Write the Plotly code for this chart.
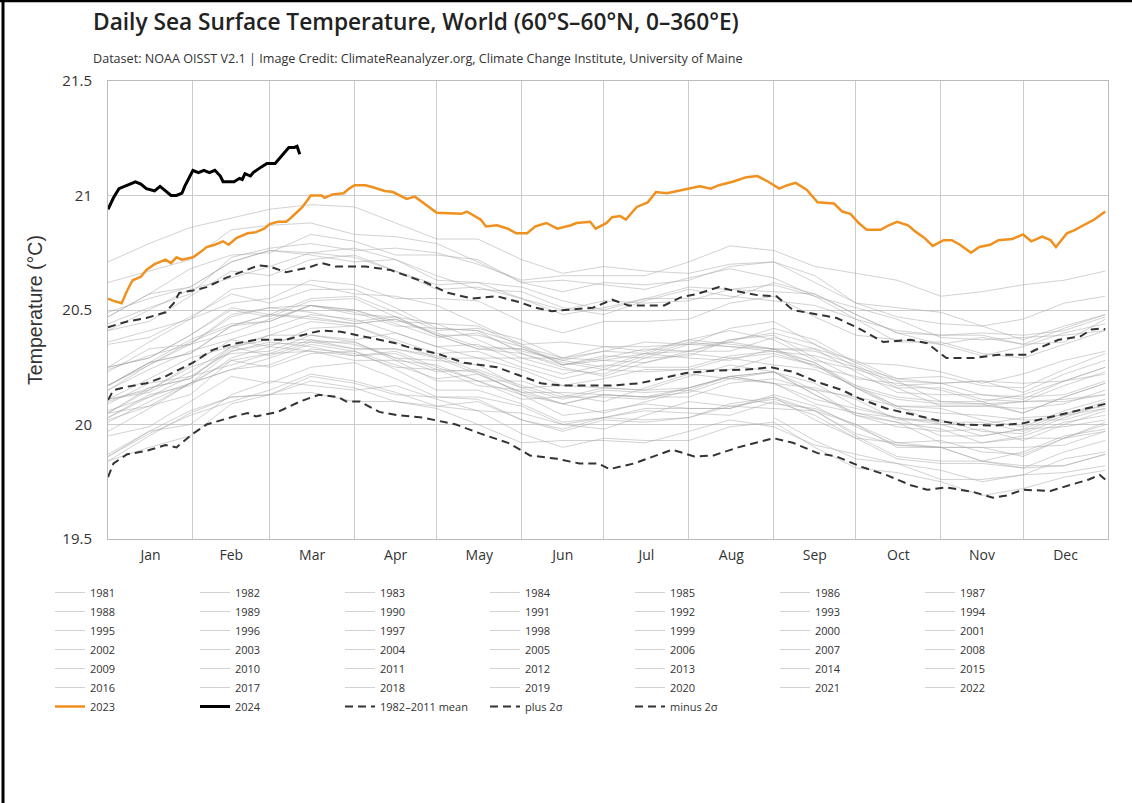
import plotly.graph_objects as go

# ---------------- data ----------------
MONTHS = ["Jan", "Feb", "Mar", "Apr", "May", "Jun", "Jul", "Aug", "Sep", "Oct", "Nov", "Dec"]
MONTH_MID = [15.5, 45, 74.5, 105, 135.5, 166, 196.5, 227.5, 258, 288.5, 319, 349.5]
MONTH_START = [0, 31, 59, 90, 120, 151, 181, 212, 243, 273, 304, 334, 365]
Y_TICKS = [19.5, 20, 20.5, 21, 21.5]
Y_TICK_TEXT = ["19.5", "20", "20.5", "21", "21.5"]

# day-of-year positions of the values read for the 1981-2022 lines
ANCHOR_DAYS = [0, 15, 30, 45, 59, 74, 90, 105, 120, 135, 151, 166, 181, 196, 212, 227, 243, 258, 273, 288, 304, 319, 334, 349, 364]

y1981 = [20.03, 19.93, 19.85, 19.83, 19.80, 19.75, 19.78, 19.85, 19.88]  # from Sep 1 only
y1982 = [19.86, 19.97, 20.00, 20.13, 20.19, 20.17, 20.15, 20.17, 20.11, 20.06, 20.05, 20.00, 19.98, 20.04, 20.10, 20.08, 20.07, 20.06, 20.00, 19.92, 19.93, 19.88, 19.87, 19.94, 20.01]
y1983 = [20.05, 20.08, 20.18, 20.28, 20.25, 20.31, 20.32, 20.24, 20.15, 20.15, 20.09, 20.01, 20.03, 20.06, 20.05, 20.04, 20.10, 20.04, 19.94, 19.85, 19.83, 19.83, 19.81, 19.82, 19.87]
y1984 = [19.87, 19.97, 20.06, 20.12, 20.13, 20.19, 20.16, 20.10, 20.08, 20.06, 19.96, 19.90, 19.94, 19.93, 19.93, 19.99, 20.01, 19.90, 19.81, 19.79, 19.75, 19.69, 19.72, 19.77, 19.80]
y1985 = [19.84, 19.90, 19.95, 20.09, 20.13, 20.14, 20.10, 20.10, 20.07, 20.00, 19.92, 19.93, 19.93, 19.92, 19.97, 20.02, 19.99, 19.91, 19.87, 19.83, 19.76, 19.76, 19.78, 19.79, 19.82]
y1986 = [19.86, 19.96, 20.04, 20.10, 20.15, 20.22, 20.19, 20.14, 20.08, 20.10, 20.02, 19.98, 20.03, 20.02, 20.03, 20.08, 20.11, 20.06, 19.96, 19.91, 19.90, 19.90, 19.86, 19.94, 20.00]
y1987 = [20.03, 20.13, 20.17, 20.29, 20.34, 20.32, 20.30, 20.32, 20.25, 20.19, 20.19, 20.13, 20.10, 20.16, 20.22, 20.20, 20.18, 20.16, 20.11, 20.02, 20.02, 19.97, 19.96, 20.03, 20.09]
y1988 = [20.11, 20.14, 20.23, 20.34, 20.30, 20.36, 20.36, 20.28, 20.19, 20.19, 20.13, 20.04, 20.06, 20.09, 20.07, 20.07, 20.12, 20.06, 19.95, 19.86, 19.84, 19.84, 19.82, 19.82, 19.87]
y1989 = [19.84, 19.95, 20.05, 20.12, 20.13, 20.21, 20.18, 20.13, 20.12, 20.11, 20.02, 19.97, 20.02, 20.01, 20.03, 20.09, 20.12, 20.02, 19.94, 19.92, 19.90, 19.84, 19.88, 19.95, 19.98]
y1990 = [20.02, 20.08, 20.13, 20.28, 20.31, 20.32, 20.28, 20.28, 20.26, 20.19, 20.11, 20.12, 20.12, 20.11, 20.16, 20.21, 20.18, 20.11, 20.07, 20.03, 19.95, 19.95, 19.98, 19.99, 20.02]
y1991 = [20.03, 20.12, 20.21, 20.26, 20.31, 20.37, 20.35, 20.29, 20.23, 20.24, 20.17, 20.12, 20.16, 20.15, 20.16, 20.21, 20.23, 20.18, 20.08, 20.03, 20.01, 20.01, 19.97, 20.04, 20.10]
y1992 = [20.09, 20.18, 20.21, 20.32, 20.36, 20.34, 20.30, 20.31, 20.24, 20.17, 20.15, 20.09, 20.05, 20.10, 20.15, 20.12, 20.09, 20.07, 20.00, 19.90, 19.90, 19.84, 19.81, 19.88, 19.93]
y1993 = [19.95, 19.99, 20.10, 20.21, 20.18, 20.25, 20.27, 20.20, 20.12, 20.12, 20.08, 20.00, 20.03, 20.07, 20.07, 20.07, 20.13, 20.08, 19.99, 19.91, 19.90, 19.90, 19.90, 19.91, 19.97]
y1994 = [19.97, 20.07, 20.18, 20.24, 20.26, 20.33, 20.31, 20.25, 20.24, 20.23, 20.13, 20.09, 20.13, 20.12, 20.14, 20.20, 20.23, 20.13, 20.05, 20.03, 20.00, 19.95, 19.98, 20.05, 20.08]
y1995 = [20.10, 20.16, 20.20, 20.34, 20.37, 20.37, 20.33, 20.33, 20.29, 20.22, 20.14, 20.14, 20.13, 20.12, 20.16, 20.21, 20.18, 20.09, 20.05, 20.01, 19.92, 19.92, 19.94, 19.94, 19.97]
y1996 = [20.01, 20.10, 20.18, 20.24, 20.29, 20.35, 20.32, 20.26, 20.20, 20.22, 20.14, 20.09, 20.13, 20.12, 20.12, 20.18, 20.20, 20.15, 20.04, 19.99, 19.97, 19.98, 19.93, 20.00, 20.06]
y1997 = [20.05, 20.16, 20.20, 20.33, 20.39, 20.39, 20.37, 20.40, 20.34, 20.29, 20.29, 20.24, 20.22, 20.29, 20.35, 20.34, 20.33, 20.33, 20.28, 20.20, 20.21, 20.17, 20.16, 20.24, 20.31]
y1998 = [20.35, 20.38, 20.47, 20.57, 20.53, 20.59, 20.59, 20.51, 20.42, 20.41, 20.35, 20.26, 20.28, 20.31, 20.29, 20.28, 20.33, 20.27, 20.16, 20.07, 20.05, 20.04, 20.02, 20.02, 20.07]
y1999 = [20.05, 20.15, 20.25, 20.31, 20.32, 20.39, 20.36, 20.29, 20.28, 20.26, 20.16, 20.11, 20.15, 20.14, 20.15, 20.21, 20.23, 20.13, 20.04, 20.01, 19.98, 19.92, 19.95, 20.01, 20.04]
y2000 = [20.06, 20.12, 20.18, 20.32, 20.35, 20.36, 20.33, 20.33, 20.30, 20.23, 20.16, 20.17, 20.16, 20.15, 20.21, 20.26, 20.23, 20.15, 20.12, 20.08, 20.00, 20.00, 20.03, 20.04, 20.07]
y2001 = [20.11, 20.20, 20.29, 20.34, 20.39, 20.45, 20.43, 20.37, 20.31, 20.32, 20.25, 20.20, 20.24, 20.23, 20.24, 20.29, 20.31, 20.26, 20.16, 20.11, 20.09, 20.09, 20.05, 20.12, 20.18]
y2002 = [20.17, 20.27, 20.31, 20.43, 20.48, 20.46, 20.44, 20.46, 20.39, 20.33, 20.33, 20.27, 20.24, 20.30, 20.36, 20.34, 20.32, 20.30, 20.25, 20.16, 20.16, 20.11, 20.10, 20.17, 20.23]
y2003 = [20.25, 20.29, 20.39, 20.50, 20.47, 20.54, 20.55, 20.47, 20.39, 20.39, 20.34, 20.26, 20.29, 20.33, 20.32, 20.32, 20.38, 20.33, 20.23, 20.14, 20.13, 20.13, 20.12, 20.13, 20.19]
y2004 = [20.17, 20.27, 20.37, 20.44, 20.45, 20.52, 20.49, 20.43, 20.42, 20.41, 20.31, 20.26, 20.30, 20.29, 20.30, 20.37, 20.39, 20.29, 20.20, 20.18, 20.15, 20.10, 20.13, 20.19, 20.22]
y2005 = [20.24, 20.30, 20.35, 20.48, 20.51, 20.52, 20.48, 20.47, 20.44, 20.37, 20.29, 20.29, 20.28, 20.27, 20.32, 20.36, 20.33, 20.25, 20.21, 20.16, 20.08, 20.08, 20.10, 20.10, 20.13]
y2006 = [20.17, 20.26, 20.35, 20.40, 20.46, 20.52, 20.50, 20.44, 20.38, 20.40, 20.32, 20.28, 20.32, 20.31, 20.32, 20.37, 20.40, 20.35, 20.25, 20.20, 20.18, 20.19, 20.14, 20.22, 20.28]
y2007 = [20.23, 20.33, 20.35, 20.47, 20.51, 20.49, 20.45, 20.47, 20.39, 20.33, 20.31, 20.25, 20.21, 20.27, 20.31, 20.29, 20.26, 20.24, 20.17, 20.08, 20.07, 20.02, 19.99, 20.06, 20.11]
y2008 = [20.11, 20.15, 20.26, 20.37, 20.34, 20.42, 20.43, 20.36, 20.29, 20.29, 20.24, 20.17, 20.20, 20.24, 20.24, 20.24, 20.30, 20.26, 20.16, 20.08, 20.08, 20.08, 20.07, 20.09, 20.15]
y2009 = [20.15, 20.26, 20.36, 20.43, 20.45, 20.52, 20.50, 20.45, 20.44, 20.43, 20.34, 20.29, 20.34, 20.34, 20.35, 20.42, 20.45, 20.35, 20.27, 20.26, 20.23, 20.18, 20.22, 20.28, 20.32]
y2010 = [20.36, 20.41, 20.46, 20.59, 20.61, 20.61, 20.57, 20.56, 20.52, 20.44, 20.35, 20.36, 20.34, 20.32, 20.37, 20.41, 20.37, 20.28, 20.24, 20.19, 20.10, 20.09, 20.10, 20.11, 20.13]
y2011 = [20.15, 20.24, 20.32, 20.37, 20.42, 20.48, 20.46, 20.40, 20.34, 20.35, 20.27, 20.22, 20.26, 20.25, 20.25, 20.30, 20.32, 20.27, 20.17, 20.12, 20.10, 20.10, 20.05, 20.12, 20.18]
y2012 = [20.17, 20.27, 20.31, 20.43, 20.48, 20.47, 20.44, 20.46, 20.40, 20.34, 20.33, 20.28, 20.25, 20.31, 20.37, 20.35, 20.33, 20.32, 20.26, 20.17, 20.18, 20.13, 20.11, 20.19, 20.25]
y2013 = [20.25, 20.29, 20.39, 20.51, 20.48, 20.55, 20.56, 20.49, 20.41, 20.42, 20.37, 20.29, 20.32, 20.36, 20.35, 20.36, 20.42, 20.37, 20.27, 20.19, 20.18, 20.19, 20.18, 20.19, 20.25]
y2014 = [20.25, 20.36, 20.46, 20.53, 20.55, 20.63, 20.61, 20.55, 20.55, 20.54, 20.45, 20.40, 20.45, 20.45, 20.46, 20.53, 20.56, 20.47, 20.39, 20.37, 20.35, 20.30, 20.34, 20.40, 20.44]
y2015 = [20.44, 20.51, 20.57, 20.73, 20.77, 20.79, 20.76, 20.77, 20.75, 20.70, 20.63, 20.65, 20.65, 20.65, 20.71, 20.78, 20.76, 20.69, 20.66, 20.63, 20.56, 20.58, 20.61, 20.63, 20.67]
y2016 = [20.71, 20.79, 20.86, 20.90, 20.94, 20.96, 20.95, 20.88, 20.81, 20.81, 20.72, 20.66, 20.69, 20.67, 20.66, 20.70, 20.71, 20.65, 20.53, 20.47, 20.44, 20.43, 20.37, 20.43, 20.48]
y2017 = [20.47, 20.57, 20.60, 20.71, 20.76, 20.74, 20.71, 20.72, 20.65, 20.59, 20.58, 20.51, 20.48, 20.54, 20.59, 20.56, 20.54, 20.52, 20.46, 20.36, 20.36, 20.31, 20.29, 20.35, 20.41]
y2018 = [20.41, 20.45, 20.56, 20.67, 20.65, 20.72, 20.74, 20.67, 20.59, 20.60, 20.55, 20.48, 20.51, 20.55, 20.55, 20.55, 20.62, 20.57, 20.48, 20.40, 20.39, 20.40, 20.39, 20.41, 20.47]
y2019 = [20.47, 20.57, 20.68, 20.74, 20.75, 20.83, 20.80, 20.74, 20.74, 20.72, 20.62, 20.58, 20.62, 20.61, 20.63, 20.69, 20.71, 20.62, 20.53, 20.51, 20.49, 20.43, 20.46, 20.53, 20.56]
y2020 = [20.62, 20.67, 20.72, 20.85, 20.87, 20.88, 20.83, 20.82, 20.79, 20.71, 20.62, 20.63, 20.61, 20.59, 20.64, 20.68, 20.64, 20.56, 20.51, 20.46, 20.38, 20.37, 20.38, 20.39, 20.41]
y2021 = [20.41, 20.50, 20.59, 20.64, 20.69, 20.75, 20.73, 20.67, 20.61, 20.62, 20.55, 20.50, 20.54, 20.53, 20.54, 20.59, 20.61, 20.56, 20.46, 20.41, 20.39, 20.39, 20.35, 20.42, 20.48]
y2022 = [20.49, 20.55, 20.60, 20.71, 20.76, 20.75, 20.77, 20.72, 20.63, 20.62, 20.60, 20.54, 20.50, 20.55, 20.60, 20.59, 20.58, 20.57, 20.48, 20.40, 20.35, 20.38, 20.35, 20.36, 20.46]

days_2023 = [0, 2, 5, 7, 9, 12, 14, 17, 19, 21, 23, 25, 27, 31, 34, 36, 39, 42, 44, 47, 51, 54, 57, 59, 62, 65, 67, 71, 74, 78, 79, 82, 86, 88, 90, 94, 97, 101, 104, 109, 112, 116, 120, 129, 131, 136, 138, 142, 146, 149, 153, 156, 160, 164, 169, 171, 176, 178, 182, 184, 187, 189, 193, 197, 200, 204, 206, 211, 216, 220, 223, 228, 233, 237, 241, 245, 248, 251, 255, 259, 265, 268, 271, 274, 277, 282, 285, 288, 292, 295, 298, 301, 305, 308, 311, 315, 318, 322, 325, 330, 334, 337, 341, 344, 346, 350, 353, 356, 360, 364]
sst_2023 = [20.55, 20.54, 20.53, 20.585, 20.63, 20.645, 20.675, 20.70, 20.71, 20.72, 20.705, 20.73, 20.72, 20.73, 20.755, 20.775, 20.785, 20.80, 20.785, 20.815, 20.835, 20.84, 20.855, 20.875, 20.885, 20.885, 20.905, 20.95, 21.00, 21.00, 20.99, 21.005, 21.01, 21.03, 21.045, 21.045, 21.035, 21.02, 21.015, 20.985, 20.995, 20.96, 20.925, 20.92, 20.93, 20.895, 20.865, 20.87, 20.855, 20.835, 20.835, 20.865, 20.88, 20.855, 20.87, 20.88, 20.885, 20.855, 20.88, 20.905, 20.91, 20.895, 20.95, 20.97, 21.015, 21.01, 21.015, 21.03, 21.04, 21.03, 21.045, 21.06, 21.08, 21.085, 21.06, 21.03, 21.045, 21.055, 21.025, 20.97, 20.965, 20.93, 20.92, 20.88, 20.85, 20.85, 20.87, 20.885, 20.87, 20.84, 20.815, 20.78, 20.805, 20.805, 20.785, 20.75, 20.775, 20.785, 20.805, 20.81, 20.83, 20.80, 20.82, 20.805, 20.775, 20.835, 20.85, 20.87, 20.895, 20.93]

days_2024 = [0, 2, 4, 6, 8, 10, 12, 14, 17, 19, 21, 23, 25, 27, 28, 30, 31, 33, 35, 37, 39, 41, 42, 46, 48, 49, 50, 52, 53, 56, 58, 61, 62, 64, 66, 68, 69, 70]
sst_2024 = [20.94, 20.99, 21.03, 21.04, 21.05, 21.06, 21.05, 21.03, 21.02, 21.04, 21.02, 21.00, 21.00, 21.01, 21.04, 21.09, 21.11, 21.10, 21.11, 21.10, 21.11, 21.085, 21.06, 21.06, 21.075, 21.07, 21.095, 21.085, 21.10, 21.125, 21.14, 21.14, 21.155, 21.185, 21.21, 21.21, 21.215, 21.18]

days_mean = [0, 2, 7, 14, 21, 26, 31, 38, 45, 54, 65, 74, 78, 85, 91, 98, 105, 109, 120, 130, 142, 150, 158, 166, 184, 194, 203, 211, 221, 233, 242, 250, 259, 268, 274, 284, 295, 304, 311, 323, 334, 343, 351, 359, 364]
sst_mean = [20.107, 20.15, 20.165, 20.18, 20.21, 20.24, 20.27, 20.325, 20.35, 20.37, 20.37, 20.40, 20.41, 20.405, 20.39, 20.375, 20.355, 20.34, 20.31, 20.27, 20.25, 20.215, 20.18, 20.17, 20.17, 20.18, 20.205, 20.225, 20.235, 20.24, 20.25, 20.23, 20.185, 20.15, 20.115, 20.07, 20.04, 20.015, 20.0, 19.995, 20.005, 20.03, 20.05, 20.075, 20.09]

days_plus = [0, 7, 14, 21, 24, 26, 31, 36, 43, 51, 55, 59, 65, 73, 78, 83, 88, 94, 103, 111, 116, 124, 133, 142, 150, 156, 162, 177, 184, 190, 203, 209, 215, 223, 228, 237, 244, 250, 257, 266, 274, 283, 293, 299, 306, 316, 325, 335, 341, 347, 355, 359, 363, 364]
sst_plus = [20.425, 20.45, 20.465, 20.49, 20.53, 20.575, 20.585, 20.60, 20.64, 20.675, 20.695, 20.69, 20.665, 20.685, 20.705, 20.69, 20.69, 20.69, 20.675, 20.64, 20.62, 20.575, 20.55, 20.56, 20.535, 20.51, 20.495, 20.51, 20.545, 20.52, 20.52, 20.555, 20.57, 20.60, 20.585, 20.565, 20.56, 20.50, 20.485, 20.465, 20.42, 20.36, 20.37, 20.355, 20.29, 20.29, 20.305, 20.305, 20.34, 20.37, 20.385, 20.415, 20.42, 20.415]

days_minus = [0, 2, 7, 14, 21, 25, 31, 36, 46, 51, 54, 62, 70, 77, 84, 87, 92, 99, 106, 115, 127, 136, 146, 154, 164, 172, 179, 183, 192, 200, 206, 214, 221, 230, 239, 243, 250, 259, 266, 275, 284, 293, 299, 306, 316, 323, 328, 334, 344, 351, 358, 362, 364]
sst_minus = [19.77, 19.83, 19.87, 19.885, 19.91, 19.90, 19.96, 20.0, 20.035, 20.05, 20.035, 20.055, 20.10, 20.13, 20.12, 20.10, 20.10, 20.055, 20.04, 20.03, 20.0, 19.96, 19.92, 19.865, 19.85, 19.83, 19.83, 19.805, 19.83, 19.865, 19.89, 19.86, 19.865, 19.90, 19.93, 19.94, 19.92, 19.875, 19.86, 19.815, 19.78, 19.735, 19.715, 19.725, 19.705, 19.68, 19.69, 19.715, 19.71, 19.735, 19.76, 19.78, 19.76]

# ---------------- figure ----------------
W, H = 1132, 803
L, R, T, B = 108, 24, 81, 264
FONT = "Open Sans"

def px_x(p):
    return (p - L) / (W - L - R)

def px_y(p):
    return (H - B - p) / (H - T - B)

fig = go.Figure()

gray_years = [
    ("1981", y1981), ("1982", y1982), ("1983", y1983), ("1984", y1984), ("1985", y1985),
    ("1986", y1986), ("1987", y1987), ("1988", y1988), ("1989", y1989), ("1990", y1990),
    ("1991", y1991), ("1992", y1992), ("1993", y1993), ("1994", y1994), ("1995", y1995),
    ("1996", y1996), ("1997", y1997), ("1998", y1998), ("1999", y1999), ("2000", y2000),
    ("2001", y2001), ("2002", y2002), ("2003", y2003), ("2004", y2004), ("2005", y2005),
    ("2006", y2006), ("2007", y2007), ("2008", y2008), ("2009", y2009), ("2010", y2010),
    ("2011", y2011), ("2012", y2012), ("2013", y2013), ("2014", y2014), ("2015", y2015),
    ("2016", y2016), ("2017", y2017), ("2018", y2018), ("2019", y2019), ("2020", y2020),
    ("2021", y2021), ("2022", y2022),
]
for name, vals in gray_years:
    xs = ANCHOR_DAYS[len(ANCHOR_DAYS) - len(vals):]
    fig.add_trace(go.Scatter(x=xs, y=vals, mode="lines", name=name,
                             line=dict(color="rgba(165,165,165,0.5)", width=1)))

fig.add_trace(go.Scatter(x=days_2023, y=sst_2023, mode="lines", name="2023",
                         line=dict(color="#f0901e", width=2.5)))
fig.add_trace(go.Scatter(x=days_2024, y=sst_2024, mode="lines", name="2024",
                         line=dict(color="#000000", width=3)))
fig.add_trace(go.Scatter(x=days_mean, y=sst_mean, mode="lines", name="1982–2011 mean",
                         line=dict(color="#333333", width=2, dash="8px,5px")))
fig.add_trace(go.Scatter(x=days_plus, y=sst_plus, mode="lines", name="plus 2σ",
                         line=dict(color="#333333", width=2, dash="8px,5px")))
fig.add_trace(go.Scatter(x=days_minus, y=sst_minus, mode="lines", name="minus 2σ",
                         line=dict(color="#333333", width=2, dash="8px,5px")))

fig.update_layout(
    width=W, height=H,
    margin=dict(l=L, r=R, t=T, b=B, autoexpand=False),
    paper_bgcolor="white", plot_bgcolor="white",
    font=dict(family=FONT, color="#333333"),
    title=dict(text="Daily Sea Surface Temperature, World (60°S–60°N, 0–360°E)",
               x=93 / W, xanchor="left", xref="container",
               y=1 - 22 / H, yanchor="middle", yref="container",
               font=dict(family=FONT, size=22.7, color="#222222", weight=600)),
    showlegend=True,
    legend=dict(orientation="h", xref="paper", yref="paper",
                x=px_x(50), xanchor="left", y=px_y(578), yanchor="top",
                font=dict(family=FONT, size=11, color="#333333"),
                entrywidth=100, entrywidthmode="pixels", itemwidth=30,
                traceorder="normal", bgcolor="rgba(0,0,0,0)"),
    xaxis=dict(range=[0, 365], tickmode="array", tickvals=MONTH_MID, ticktext=MONTHS,
               showgrid=False, zeroline=False, ticks="", ticklabelstandoff=3,
               tickfont=dict(family=FONT, size=14, color="#333333"),
               showline=True, linecolor="#bbbbbb", linewidth=1, mirror=True,
               minor=dict(tickmode="array", tickvals=MONTH_START, showgrid=True,
                          gridcolor="#cccccc", gridwidth=1, ticks="")),
    yaxis=dict(range=[19.5, 21.5], tickmode="array", tickvals=Y_TICKS, ticktext=Y_TICK_TEXT,
               showgrid=True, gridcolor="#cccccc", gridwidth=1, zeroline=False, ticks="",
               ticklabelstandoff=12,
               tickfont=dict(family=FONT, size=15, color="#333333"),
               showline=True, linecolor="#bbbbbb", linewidth=1, mirror=True,
               title=dict(text="Temperature (°C)", standoff=14,
                          font=dict(family="Liberation Sans", size=19.5, color="#333333"))),
    annotations=[dict(text="Dataset: NOAA OISST V2.1 | Image Credit: ClimateReanalyzer.org, Climate Change Institute, University of Maine",
                      xref="paper", yref="paper", x=px_x(91), y=px_y(58),
                      xanchor="left", yanchor="middle", showarrow=False,
                      font=dict(family=FONT, size=12.6, color="#333333"))],
    shapes=[
        dict(type="line", xref="paper", yref="paper", x0=px_x(3), x1=px_x(3),
             y0=px_y(0), y1=px_y(H), line=dict(color="black", width=3)),
        dict(type="line", xref="paper", yref="paper", x0=px_x(0), x1=px_x(W),
             y0=px_y(1), y1=px_y(1), line=dict(color="black", width=2.5)),
    ],
)

fig.write_html("out.html", config={"displayModeBar": False},
               post_script="document.body.style.margin='0';")
